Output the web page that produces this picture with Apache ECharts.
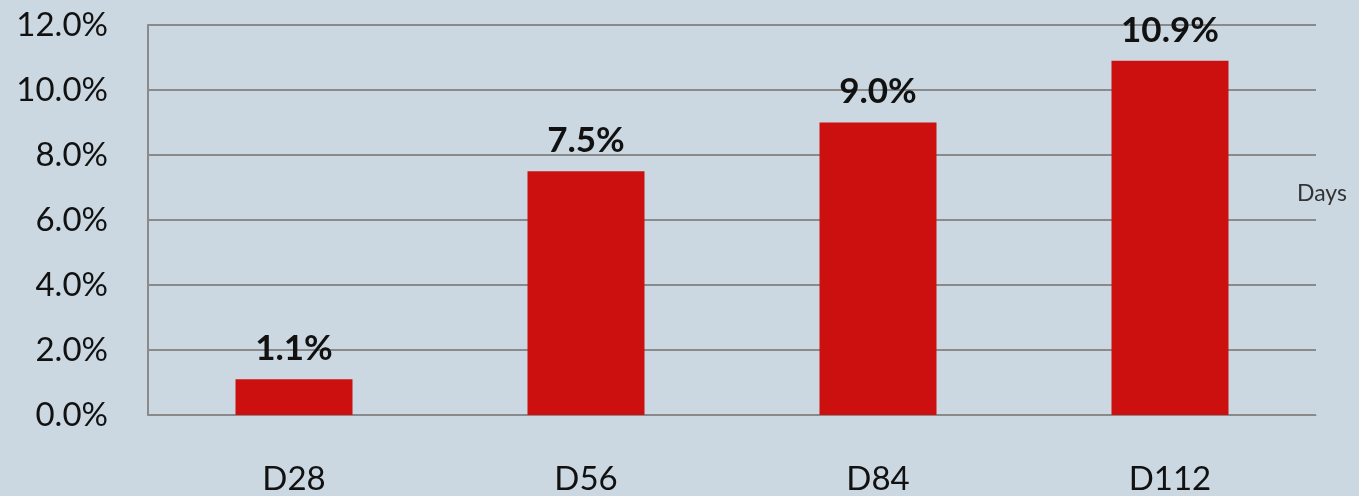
<!DOCTYPE html>
<html>
<head>
<meta charset="utf-8">
<script src="https://cdn.jsdelivr.net/npm/echarts@6/dist/echarts.min.js"></script>
<style>
  html, body { margin: 0; padding: 0; background: #cbd8e1; }
  #chart { width: 1359px; height: 496px; }
</style>
</head>
<body>
<div id="chart"></div>
<script>
  // data
  var categories = ['D28', 'D56', 'D84', 'D112'];
  var values = [1.1, 7.5, 9.0, 10.9];

  var chart = echarts.init(document.getElementById('chart'));
  var option = {
    backgroundColor: '#cbd8e1',
    animation: false,
    grid: { left: 148, right: 43, top: 25, bottom: 80 },
    xAxis: {
      type: 'category',
      data: categories,
      axisLine: { show: true, lineStyle: { color: '#8a8a8a', width: 1 } },
      axisTick: { show: false },
      axisLabel: { color: '#111', fontSize: 33, fontFamily: 'Lato', margin: 48 }
    },
    yAxis: {
      type: 'value',
      min: 0,
      max: 12,
      interval: 2,
      axisLine: { show: true, lineStyle: { color: '#8a8a8a', width: 2 } },
      axisTick: { show: false },
      splitLine: { lineStyle: { color: '#8a8a8a', width: 2 } },
      axisLabel: {
        color: '#111', fontSize: 33, fontFamily: 'Lato', margin: 40,
        formatter: function (v) { return v.toFixed(1) + '%'; }
      }
    },
    graphic: [
      { type: 'text', left: 1297, top: 182,
        style: { text: 'Days', fontSize: 23, fontFamily: 'Lato', fill: '#333' } }
    ],
    series: [{
      type: 'bar',
      data: values,
      barWidth: 117,
      itemStyle: { color: '#cc1010' },
      label: {
        show: true,
        position: 'top',
        distance: 13,
        color: '#111',
        fontSize: 35,
        fontWeight: 'bold',
        fontFamily: 'Lato',
        formatter: function (p) { return p.value.toFixed(1) + '%'; }
      }
    }]
  };
  chart.setOption(option);
</script>
</body>
</html>
